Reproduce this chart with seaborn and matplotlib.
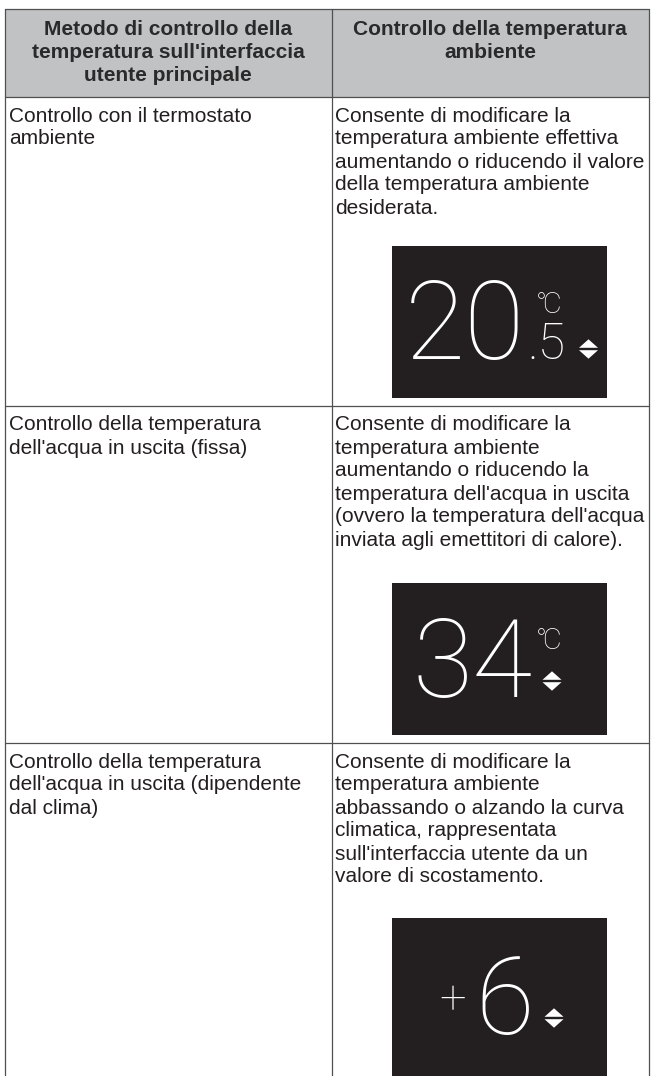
import matplotlib
matplotlib.use("Agg")
import matplotlib.pyplot as plt
import seaborn as sns
from matplotlib.patches import Rectangle, Polygon

sns.set_theme(style="white")
plt.rcParams['font.family'] = ['Liberation Sans', 'DejaVu Sans']

# ---- data (table content) ----
header_labels = [
    "Metodo di controllo della\ntemperatura sull'interfaccia\nutente principale",
    "Controllo della temperatura\nambiente",
]
method_labels = [
    "Controllo con il termostato\nambiente",
    "Controllo della temperatura\ndell'acqua in uscita (fissa)",
    "Controllo della temperatura\ndell'acqua in uscita (dipendente\ndal clima)",
]
effect_labels = [
    "Consente di modificare la\ntemperatura ambiente effettiva\naumentando o riducendo il valore\ndella temperatura ambiente\ndesiderata.",
    "Consente di modificare la\ntemperatura ambiente\naumentando o riducendo la\ntemperatura dell'acqua in uscita\n(ovvero la temperatura dell'acqua\ninviata agli emettitori di calore).",
    "Consente di modificare la\ntemperatura ambiente\nabbassando o alzando la curva\nclimatica, rappresentata\nsull'interfaccia utente da un\nvalore di scostamento.",
]
display_prefix = ["", "", "+"]
display_main = ["20", "34", "6"]
display_decimal = [".5", "", ""]
display_unit = ["\u2103", "\u2103", ""]

# ---- layout ----
W, H = 652, 1076
fig = plt.figure(figsize=(W / 100, H / 100), dpi=100)
ax = fig.add_axes([0, 0, 1, 1])
ax.set_xlim(0, W)
ax.set_ylim(H, 0)
ax.axis("off")

x0, x1, x2 = 4.5, 331.5, 648.5
row_tops = [9, 97, 406, 743]
row_bottom = 1090
border = "#505050"
header_bg = "#c1c2c4"
text_col = "#231f20"
box_col = "#231f20"
fs = 15
step = 23

# header background
ax.add_patch(Rectangle((x0, row_tops[0]), x2 - x0, row_tops[1] - row_tops[0],
                       facecolor=header_bg, edgecolor="none", zorder=0))
# grid lines
lw = 0.9
for y in row_tops:
    ax.plot([x0, x2], [y, y], color=border, lw=lw, zorder=3)
for x in (x0, x1, x2):
    ax.plot([x, x], [row_tops[0], row_bottom], color=border, lw=lw, zorder=3)

# header text
centers = [(x0 + x1) / 2, (x1 + x2) / 2]
for cx, lab in zip(centers, header_labels):
    for i, line in enumerate(lab.split("\n")):
        ax.text(cx, row_tops[0] + 26 + i * step, line, ha="center", va="baseline",
                fontsize=fs, fontweight="bold", color="#2a2a2a")

# body text
for r in range(3):
    top = row_tops[r + 1]
    for i, line in enumerate(method_labels[r].split("\n")):
        ax.text(x0 + 4.5, top + 24.5 + i * step, line, ha="left", va="baseline",
                fontsize=fs, color=text_col)
    for i, line in enumerate(effect_labels[r].split("\n")):
        ax.text(x1 + 3.5, top + 24.5 + i * step, line, ha="left", va="baseline",
                fontsize=fs, color=text_col)

# display boxes
box_x0, box_x1 = 392, 607
box_tops = [246, 583, 918]
box_h = [152, 152, 170]
for r in range(3):
    ax.add_patch(Rectangle((box_x0, box_tops[r]), box_x1 - box_x0, box_h[r],
                           facecolor=box_col, edgecolor="none", zorder=1))

big = dict(color="white", fontfamily=["Roboto", "DejaVu Sans"], fontweight="light", zorder=4)


def arrows(cx, cy, w=19, h=8.5, gap=1.2):
    """up/down selector icon of the display"""
    ax.add_patch(Polygon([(cx - w / 2, cy - gap), (cx + w / 2, cy - gap), (cx, cy - gap - h)],
                         closed=True, facecolor="white", edgecolor="none", zorder=4))
    ax.add_patch(Polygon([(cx - w / 2, cy + gap), (cx + w / 2, cy + gap), (cx, cy + gap + h)],
                         closed=True, facecolor="white", edgecolor="none", zorder=4))


# box 1 : 20.5
ax.text(525, 359, display_main[0], ha="right", va="baseline", fontsize=79, **big)
ax.text(527, 359, display_decimal[0], ha="left", va="baseline", fontsize=36, **big)
ax.text(537, 313, display_unit[0], ha="left", va="baseline", fontsize=21, **big)
arrows(588.5, 349)
# box 2 : 34
ax.text(533, 697, display_main[1], ha="right", va="baseline", fontsize=79, **big)
ax.text(537, 649, display_unit[1], ha="left", va="baseline", fontsize=21, **big)
arrows(552, 681)
# box 3 : +6
ax.text(452.5, 1013, display_prefix[2], ha="center", va="baseline", fontsize=34, **big)
ax.text(505, 1034, display_main[2], ha="center", va="baseline", fontsize=77, **big)
arrows(554, 1018)

fig.savefig("out.png", dpi=100, facecolor="white")
